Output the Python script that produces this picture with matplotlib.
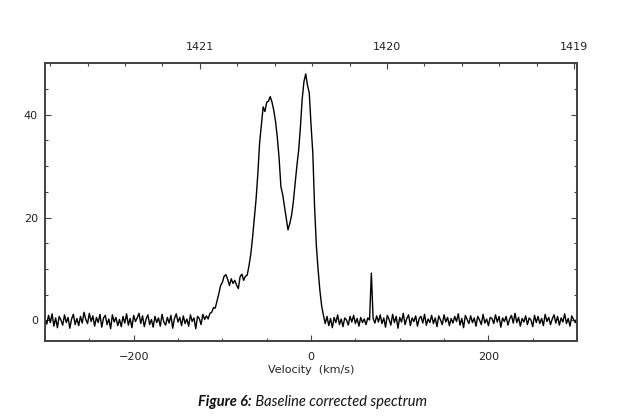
import matplotlib
matplotlib.use("Agg")
import matplotlib.pyplot as plt
import numpy as np
from matplotlib.ticker import MultipleLocator, FixedLocator

# spectrum channels, 2 km/s apart, from -300 to +300 km/s
v_start = -300
v_step = 2
intensity = [
    0.3, -0.7, 1.0, -0.4, 1.3, -1.1, 0.5, -1.4, 0.8, 0.1,      # -300
    -0.9, 1.1, -0.4, 0.6, -1.5, 0.3, 1.2, -0.8, 0.4, -1.0,     # -280
    0.8, -0.5, 1.6, 0.2, -0.6, 1.4, -0.2, 0.9, -1.1, 0.6,      # -260
    -0.4, 1.2, -1.3, 0.5, 1.0, -0.8, 0.3, -1.6, 1.1, -0.3,     # -240
    0.6, -1.0, 0.2, -1.2, 0.8, -0.5, 1.3, -0.9, 0.4, -1.4,     # -220
    1.0, -0.2, 0.5, 1.4, -0.6, 0.9, -1.2, 0.3, 1.1, -0.8,      # -200
    0.2, -1.3, 0.8, -0.4, 0.5, -1.1, 1.2, -0.3, -0.9, 0.6,     # -180
    -0.5, 1.0, -1.5, 0.4, 1.3, -0.3, 0.6, -1.0, 0.9, -0.6,     # -160
    0.3, -1.1, 1.1, -0.2, 0.5, -1.6, 0.8, 0.4, -0.8, 1.2,      # -140
    0.2, 0.9, 0.3, 1.4, 1.6, 2.5, 2.4, 3.8, 5.2, 6.8,          # -120
    7.4, 8.6, 8.9, 8.0, 6.8, 8.1, 7.2, 7.8, 6.9, 6.2,          # -100
    8.5, 9.0, 7.8, 8.6, 8.8, 10.6, 12.8, 16.0, 19.8, 23.5,     # -80
    28.5, 34.5, 38.0, 41.5, 40.6, 42.4, 42.6, 43.5, 42.4, 40.8,  # -60
    38.6, 35.5, 31.5, 26.0, 24.5, 22.2, 19.8, 17.6, 18.8, 20.4,  # -40
    23.0, 26.5, 30.0, 33.0, 37.5, 43.0, 46.4, 47.9, 45.7, 44.2,  # -20
    38.0, 32.5, 22.0, 14.5, 9.8, 5.8, 2.8, 1.0, -0.6, 0.8,     # 0
    -1.0, 0.4, -1.4, 0.6, -0.4, 1.1, -0.8, 0.3, -1.2, 0.5,     # 20
    0.1, -0.9, 0.8, -0.3, 1.0, -0.6, 0.4, -1.1, 0.6, -0.4,     # 40
    0.3, -0.8, 0.5, 0.1, 9.2, 0.4, -0.5, 0.9, -0.3, 1.1,       # 60
    -0.6, 0.5, -1.3, 1.0, 0.2, -0.9, 1.2, -0.4, 0.8, -1.5,     # 80
    0.6, -0.3, 1.4, -0.8, 0.4, 1.1, -1.0, 0.5, -0.2, 0.9,      # 100
    -1.1, 0.4, 0.8, -0.5, 1.2, -0.9, 0.3, -0.4, 1.0, -0.6,     # 120
    0.5, -1.2, 0.9, 0.1, -0.8, 1.1, -0.3, 0.6, -1.0, 0.4,      # 140
    -0.5, 0.8, -0.2, 1.3, -0.9, 0.4, -1.4, 1.0, 0.2, -0.6,     # 160
    0.9, -0.4, 0.5, -1.1, 0.8, 0.1, -0.8, 1.2, -0.5, 0.3,      # 180
    -1.0, 0.6, 0.4, -0.6, 1.1, -0.3, 0.8, -1.3, 0.5, -0.2,     # 200
    0.8, -0.9, 0.3, 1.0, -0.5, 1.4, -0.4, 0.6, -1.1, 0.4,      # 220
    -0.3, 0.9, -0.8, 0.5, 0.1, -1.2, 1.0, -0.4, 0.8, -0.6,     # 240
    0.4, -1.0, 1.2, -0.2, 0.6, -0.8, 0.3, 1.1, -0.5, 0.8,      # 260
    -0.9, 0.5, -0.3, 1.3, -0.6, 0.4, -1.1, 0.9, 0.2, -0.4,     # 280
    0.5,                                                       # 300
]
velocity = v_start + v_step * np.arange(len(intensity))

# top axis: observed frequency (MHz)
top_freqs = [1421, 1420, 1419]
f_rest = 1420.405752
c_kms = 299792.458

def freq_to_vel(f):
    return c_kms * (f_rest / np.asarray(f, dtype=float) - 1.0)

fig = plt.figure(figsize=(6.18, 4.18), dpi=100)
ax = fig.add_axes([0.0728, 0.184, 0.861, 0.665])

ax.plot(velocity, intensity, color="black", lw=1.0)

ax.set_xlim(-300, 300)
ax.set_ylim(-4, 50)
ax.xaxis.set_major_locator(MultipleLocator(200))
ax.xaxis.set_minor_locator(MultipleLocator(50))
ax.yaxis.set_major_locator(MultipleLocator(20))
ax.yaxis.set_minor_locator(MultipleLocator(5))

frame_col = "#444444"
txt_col = "#222222"
for sp in ax.spines.values():
    sp.set_color(frame_col)
    sp.set_linewidth(1.3)

ax.tick_params(which="both", direction="in", colors=frame_col, labelcolor=txt_col,
               top=False, right=True, labelsize=8)
ax.tick_params(which="major", length=4.5, width=0.8)
ax.tick_params(which="minor", length=2.5, width=0.8)
ax.tick_params(axis="x", pad=8)
ax.tick_params(axis="y", pad=5)
ax.set_xlabel("Velocity  (km/s)", fontsize=8, color=txt_col, labelpad=2)

ax2 = ax.twiny()
ax2.set_xlim(ax.get_xlim())
ax2.xaxis.set_major_locator(FixedLocator(freq_to_vel(top_freqs)))
ax2.set_xticklabels([str(f) for f in top_freqs])
minor_f = np.arange(1418.0, 1422.01, 0.2)
ax2.xaxis.set_minor_locator(FixedLocator(freq_to_vel(minor_f)))
ax2.tick_params(which="both", direction="in", colors=frame_col, labelcolor=txt_col,
                labelsize=8, pad=8)
ax2.tick_params(which="major", length=4.5, width=0.8)
ax2.tick_params(which="minor", length=2.5, width=0.8)
for sp in ax2.spines.values():
    sp.set_color(frame_col)
    sp.set_linewidth(1.3)

# caption: bold italic label followed by italic text
t1 = fig.text(0.321, 0.038, "Figure 6:", fontfamily="Lato", fontstyle="italic",
              fontweight="bold", fontsize=10.5, ha="left", va="center", color="#111111")
fig.canvas.draw()
bb = t1.get_window_extent()
fig.text(bb.x1 / fig.bbox.width, 0.038, " Baseline corrected spectrum", fontfamily="Lato",
         fontstyle="italic", fontsize=10.5, ha="left", va="center", color="#111111")

fig.savefig("out.png", dpi=100)
